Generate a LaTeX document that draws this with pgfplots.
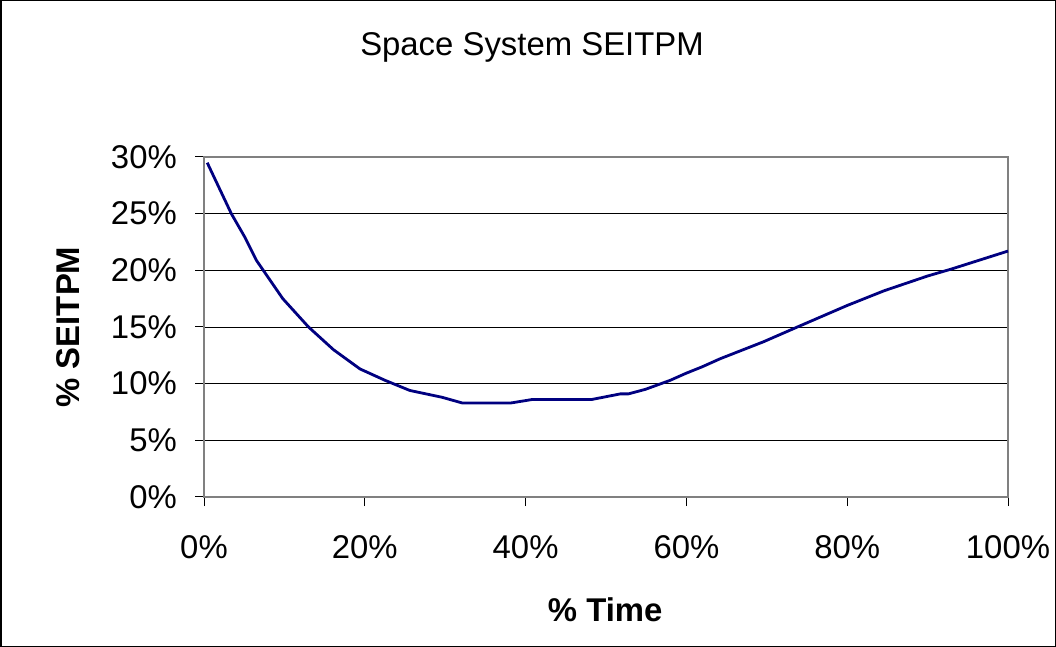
\documentclass[border=0pt]{standalone}
\usepackage{pgfplots}
\pgfplotsset{compat=1.18}
\usepackage{fontspec}
\setmainfont{Liberation Sans}
\definecolor{navyline}{RGB}{0,0,128}
\begin{document}
\begin{tikzpicture}
\path[use as bounding box] (0,0) rectangle (1056bp,647bp);
\draw[black, line width=1.5bp] (0.75bp,0.75bp) rectangle (1055.25bp,646.25bp);
\node[font=\fontsize{33}{33}\selectfont, anchor=center] at (532bp,600bp) {Space System SEITPM};
\begin{axis}[
  at={(204bp,150bp)}, anchor=south west,
  scale only axis, width=804bp, height=340bp,
  xmin=0, xmax=100, ymin=0, ymax=30,
  xtick={0,20,40,60,80,100},
  xticklabels={0\%,20\%,40\%,60\%,80\%,100\%},
  ytick={0,5,10,15,20,25,30},
  yticklabels={0\%,5\%,10\%,15\%,20\%,25\%,30\%},
  xtick pos=bottom, ytick pos=left,
  tick align=outside, major tick length=9bp,
  tick style={black, line width=1bp},
  axis line style={draw=gray, line width=2bp},
  ymajorgrids, grid style={black, line width=0.8bp},
  ticklabel style={font=\fontsize{33}{33}\selectfont, inner sep=0pt},
  xticklabel style={anchor=north, yshift=-29bp},
  yticklabel style={anchor=east, xshift=-18bp},
  xlabel={\% Time}, ylabel={\% SEITPM},
  label style={font=\bfseries\fontsize{33}{33}\selectfont},
  xlabel style={at={(axis description cs:0.499,-0.332)}, anchor=center},
  ylabel style={at={(axis description cs:-0.169,0.5)}, anchor=center},
  clip=false,
]
\addplot[navyline, line width=2.8bp, line join=round] coordinates {
(0.4,29.5) (3.4,25.0) (5.1,22.9) (6.5,20.9) (9.8,17.5) (13.0,15.0) (16.1,13.0)
(19.4,11.3) (22.5,10.3) (25.6,9.4) (29.6,8.8) (32.1,8.3) (38.2,8.3) (40.8,8.6)
(48.2,8.6) (51.8,9.1) (52.8,9.1) (54.9,9.5) (58.0,10.3) (59.9,10.9) (62.0,11.5)
(64.2,12.2) (67.8,13.2) (69.6,13.7) (73.8,15.0) (80.0,16.9) (84.6,18.2)
(90.0,19.5) (92.9,20.1) (100,21.7)
};
\end{axis}
\end{tikzpicture}
\end{document}
